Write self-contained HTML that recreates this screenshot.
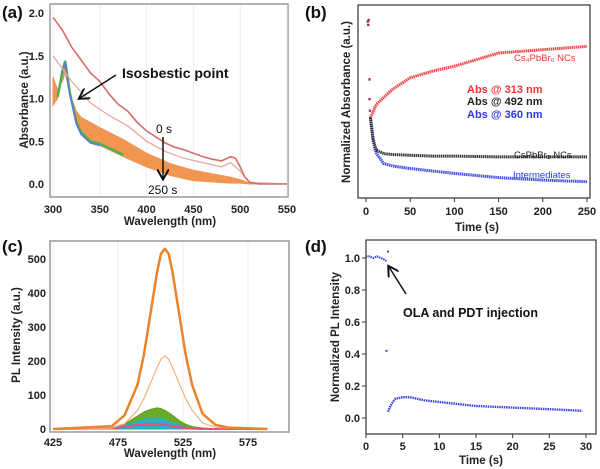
<!DOCTYPE html>
<html><head><meta charset="utf-8"><style>
body{margin:0;background:#fff;}
svg{display:block;font-family:"Liberation Sans",Arial,sans-serif;}
.tk{font-size:11px;font-weight:bold;fill:#222;}
.ttl{font-size:11.5px;font-weight:bold;fill:#222;}
.pl{font-size:17px;font-weight:bold;fill:#111;}
</style></head><body>
<svg id="fig" width="600" height="469" viewBox="0 0 600 469">
<defs><marker id="ah" markerWidth="8" markerHeight="8" refX="6" refY="4" orient="auto"><path d="M0,0 L7,4 L0,8" fill="none" stroke="#111" stroke-width="1.3"/></marker></defs>
<text class="pl" x="2" y="18">(a)</text>
<text class="pl" x="305" y="18">(b)</text>
<text class="pl" x="2" y="252">(c)</text>
<text class="pl" x="305" y="252">(d)</text>
<g id="pa"></g>
<g id="pb"></g>
<g id="pc"></g>
<g id="pd"></g>
</svg>
<script>
// ---- Panel (a) data ----
const aWl0 = [300,310,320,330,340,350,360,370,380,390,400,410,420,430,440,450,460,470,480,490,495,500,505,510,520,550];
const aAbs0 = [1.95,1.8,1.6,1.45,1.3,1.2,1.05,0.93,0.85,0.72,0.62,0.55,0.48,0.43,0.4,0.36,0.32,0.29,0.27,0.32,0.3,0.2,0.08,0.02,0,0];
const aWl1 = [300,320,340,360,380,400,420,440,460,480,490,500,510,550];
const aAbs1 = [1.5,1.2,0.95,0.8,0.68,0.5,0.38,0.3,0.25,0.2,0.25,0.15,0.02,0];
const aWlB = [300,305,310,313,318,325,330,340,350,375,400,425,450,475,490,500,510,550];
const aUpper = [1.25,1.1,1.2,1.3,1.05,0.85,0.78,0.72,0.66,0.52,0.36,0.24,0.16,0.11,0.08,0.05,0.01,0];
const aLower = [0.92,1.0,1.3,1.42,1.05,0.7,0.58,0.48,0.45,0.32,0.2,0.1,0.04,0.02,0.01,0.01,0,0];
const aXTicks = [300,350,400,450,500,550];
const aYTicks = ["0.0","0.5","1.0","1.5","2.0"];
// ---- Panel (b) data ----
const bT = [5,8,10,12,20,30,50,75,100,150,200,250];
const bRed = [0.41,0.44,0.47,0.49,0.53,0.58,0.65,0.69,0.72,0.8,0.82,0.84];
const bBlack = [0.41,0.28,0.24,0.21,0.19,0.185,0.18,0.175,0.175,0.17,0.17,0.17];
const bBlue = [0.41,0.27,0.22,0.19,0.13,0.115,0.1,0.085,0.07,0.045,0.03,0.02];
const bEarlyT = [2,2.5,3,4,4,4.5];
const bEarlyV = [0.99,0.97,1.0,0.64,0.52,0.45];
const bXTicks = [0,50,100,150,200,250];
// ---- Panel (c) data ----
const cWl = [425,470,480,490,495,500,505,508,511,514,517,522,527,532,540,550,560,590];
const cOrange = [0,8,40,130,220,340,460,515,530,515,460,340,220,130,45,12,4,0];
const cThin = [0,3,15,55,90,135,180,205,215,205,180,135,90,55,18,5,2,0];
const cGreen = [0,4,15,38,50,58,62,60,55,48,40,25,14,7,3,1,0,0];
const cBlue = [0,3,10,24,30,33,34,33,30,26,20,12,6,3,1,0,0,0];
const cPink = [0,2,6,12,14,15,15,14,13,11,8,5,3,1,0,0,0,0];
const cXTicks = [425,475,525,575];
const cYTicks = [0,100,200,300,400,500];
// ---- Panel (d) data ----
const dT = [0,0.5,1,1.5,2,2.5,2.8,3.0,3.5,4,5,6,8,10,12,15,20,25,29.5];
const dV = [1.01,1.01,1.0,1.01,1.0,0.99,0.98,0.04,0.09,0.12,0.13,0.13,0.11,0.1,0.09,0.075,0.065,0.055,0.045];
const dOutT = [3.0,2.8];
const dOutV = [1.04,0.42];
const dXTicks = [0,5,10,15,20,25,30];
const dYTicks = ["0.0","0.2","0.4","0.6","0.8","1.0"];

const NS="http://www.w3.org/2000/svg";
function el(p,tag,attrs,txt){const e=document.createElementNS(NS,tag);for(const k in attrs)e.setAttribute(k,attrs[k]);if(txt!==undefined)e.textContent=txt;p.appendChild(e);return e;}
function pts(xs,ys,fx,fy){return xs.map((x,i)=>fx(x).toFixed(1)+","+fy(ys[i]).toFixed(1)).join(" ");}

// ===== Panel A =====
(function(){
const g=document.getElementById('pa');
const fx=w=>53+(w-300)*(234/250), fy=v=>184-v*85.5;
let r=el(g,'rect',{x:50,y:4,width:238,height:193,fill:'none',stroke:'#999','stroke-width':1.5});

aXTicks.forEach(t=>{el(g,'line',{x1:fx(t),x2:fx(t),y1:5,y2:196,stroke:'#eee'});
let tx=el(g,'text',{class:'tk',x:fx(t),y:213,'text-anchor':'middle'},t);
});
aYTicks.forEach(t=>{let tx=el(g,'text',{class:'tk',x:44,y:fy(+t)+4,'text-anchor':'end'},t);
});
let band=el(g,'polygon',{points:pts(aWlB,aUpper,fx,fy)+" "+pts(aWlB.slice().reverse(),aLower.slice().reverse(),fx,fy),fill:'#f08a3c',stroke:'#ef8a45','stroke-width':1,opacity:0.9});

let gl=el(g,'polyline',{points:pts(aWlB.slice(1,10),aLower.slice(1,10).map(v=>v+0.02),fx,fy),fill:'none',stroke:'#4caf50','stroke-width':2.5});

let bl=el(g,'polyline',{points:pts(aWlB.slice(2,9),aLower.slice(2,9),fx,fy),fill:'none',stroke:'#5b7bd8','stroke-width':1.5});

let s1=el(g,'polyline',{points:pts(aWl1,aAbs1,fx,fy),fill:'none',stroke:'#e8a8a0','stroke-width':1.3});

let s0=el(g,'polyline',{points:pts(aWl0,aAbs0,fx,fy),fill:'none',stroke:'#d0706a','stroke-width':1.6});

let yt=el(g,'text',{class:'ttl',transform:'translate(28,100) rotate(-90)','text-anchor':'middle',fill:'#444'},'Absorbance (a.u.)');

let xt=el(g,'text',{class:'ttl',x:170,y:225,'text-anchor':'middle'},'Wavelength (nm)');

let an=el(g,'text',{x:122,y:78,'font-size':14,'font-weight':'bold',fill:'#111'},'Isosbestic point');

el(g,'line',{x1:116,y1:75,x2:80,y2:98,stroke:'#111','stroke-width':1.5,'marker-end':'url(#ah)'});
let t0=el(g,'text',{x:156,y:133,'font-size':12,fill:'#111'},'0 s');

el(g,'line',{x1:163,y1:137,x2:163,y2:178,stroke:'#111','stroke-width':1.5,'marker-end':'url(#ah)'});
let t2=el(g,'text',{x:148,y:194,'font-size':12,fill:'#111'},'250 s');

})();

// ===== Panel B =====
(function(){
const g=document.getElementById('pb');
const fx=t=>366+t*(221/250), fy=v=>185-v*165;
let r=el(g,'rect',{x:358,y:5,width:232,height:193,fill:'none',stroke:'#333','stroke-width':1.2});

bXTicks.forEach(t=>{el(g,'line',{x1:fx(t),x2:fx(t),y1:198,y2:202,stroke:'#333'});
let tx=el(g,'text',{class:'tk',x:fx(t),y:215,'text-anchor':'middle','font-size':12},t);
});
[["#3040e0",bBlue,'series-360nm'],["#222",bBlack,'series-492nm'],["#ee3333",bRed,'series-313nm']].forEach(s=>{
let p=el(g,'polyline',{points:pts(bT,s[1],fx,fy),fill:'none',stroke:s[0],'stroke-width':3,'stroke-dasharray':'1.5 0.6',opacity:0.9});
});
bEarlyT.forEach((t,i)=>{let c=el(g,'rect',{x:fx(t)-1.2,y:fy(bEarlyV[i])-1.2,width:2.4,height:2.4,fill:'#a03070'});
});
let yt=el(g,'text',{class:'ttl','font-size':12.5,transform:'translate(350,102) rotate(-90)','text-anchor':'middle'},'Normalized Absorbance (a.u.)');

let xt=el(g,'text',{class:'ttl','font-size':12.5,x:477,y:231,'text-anchor':'middle'},'Time (s)');

const L=[[514,61,'#e33','Cs₄PbBr₆ NCs',9.5,'normal','label-cs4pbbr6'],[467,93,'#e33','Abs @ 313 nm',11,'bold','legend-313'],[467,105,'#222','Abs @ 492 nm',11,'bold','legend-492'],[467,118,'#2a3ae0','Abs @ 360 nm',11,'bold','legend-360'],[514,158,'#222','CsPbBr₃ NCs',9.5,'normal','label-cspbbr3'],[513,178,'#2a3ae0','Intermediates',9.5,'normal','label-intermediates']];
L.forEach(a=>{let t=el(g,'text',{x:a[0],y:a[1],fill:a[2],'font-size':a[4],'font-weight':a[5]},a[3]);
});
})();

// ===== Panel C =====
(function(){
const g=document.getElementById('pc');
const fx=w=>53+(w-425)*1.3, fy=v=>429-v*0.34;
let r=el(g,'rect',{x:50,y:241,width:239,height:191,fill:'none',stroke:'#999','stroke-width':1.5});

cXTicks.forEach(t=>{el(g,'line',{x1:fx(t),x2:fx(t),y1:242,y2:431,stroke:'#eee'});
let tx=el(g,'text',{class:'tk',x:fx(t),y:446,'text-anchor':'middle'},t);
});
cYTicks.forEach(t=>{let tx=el(g,'text',{class:'tk',x:46,y:fy(t)+4,'text-anchor':'end'},t);
});
let gr=el(g,'polygon',{points:pts(cWl,cGreen,fx,fy),fill:'#6aaa2a',stroke:'#5a9a20'});

let bl=el(g,'polygon',{points:pts(cWl,cBlue,fx,fy),fill:'#2ab0c0'});

let pk=el(g,'polyline',{points:pts(cWl,cPink,fx,fy),fill:'none',stroke:'#e0508a','stroke-width':2});

let th=el(g,'polyline',{points:pts(cWl,cThin,fx,fy),fill:'none',stroke:'#f0b080','stroke-width':1.2});

let or=el(g,'polyline',{points:pts(cWl,cOrange,fx,fy),fill:'none',stroke:'#e8842a','stroke-width':2.5,'stroke-linejoin':'round'});

let yt=el(g,'text',{class:'ttl',transform:'translate(20,335) rotate(-90)','text-anchor':'middle',fill:'#444'},'PL Intensity (a.u.)');

let xt=el(g,'text',{class:'ttl',x:170,y:457,'text-anchor':'middle'},'Wavelength (nm)');

})();

// ===== Panel D =====
(function(){
const g=document.getElementById('pd');
const fx=t=>366+t*(220/30), fy=v=>418-v*160;
let r=el(g,'rect',{x:366,y:240,width:230,height:194,fill:'none',stroke:'#333','stroke-width':1.2});

dXTicks.forEach(t=>{el(g,'line',{x1:fx(t),x2:fx(t),y1:434,y2:438,stroke:'#333'});
let tx=el(g,'text',{class:'tk','font-size':12,x:fx(t),y:450,'text-anchor':'middle'},t);
});
dYTicks.forEach(t=>{el(g,'line',{x1:362,x2:366,y1:fy(+t),y2:fy(+t),stroke:'#333'});
let tx=el(g,'text',{class:'tk','font-size':12,x:360,y:fy(+t)+4,'text-anchor':'end'},t);
});
let p1=el(g,'polyline',{points:pts(dT.slice(0,7),dV.slice(0,7),fx,fy),fill:'none',stroke:'#3a44e0','stroke-width':2,'stroke-dasharray':'1.5 0.8'});

let p2=el(g,'polyline',{points:pts(dT.slice(7),dV.slice(7),fx,fy),fill:'none',stroke:'#3a44e0','stroke-width':2.4,'stroke-dasharray':'1.5 0.8'});

dOutT.forEach((t,i)=>{let c=el(g,'rect',{x:fx(t)-1,y:fy(dOutV[i])-1,width:2,height:2,fill:'#3a44e0'});
});
el(g,'line',{x1:406,y1:294,x2:389,y2:267,stroke:'#111','stroke-width':1.5,'marker-end':'url(#ah)'});
let an=el(g,'text',{x:403,y:317,'font-size':12.5,'font-weight':'bold',fill:'#111'},'OLA and PDT injection');

let yt=el(g,'text',{class:'ttl','font-size':12.5,transform:'translate(339,337) rotate(-90)','text-anchor':'middle'},'Normalized PL Intensity');

let xt=el(g,'text',{class:'ttl','font-size':12.5,x:481,y:464,'text-anchor':'middle'},'Time (s)');

})();
</script>
</body></html>
